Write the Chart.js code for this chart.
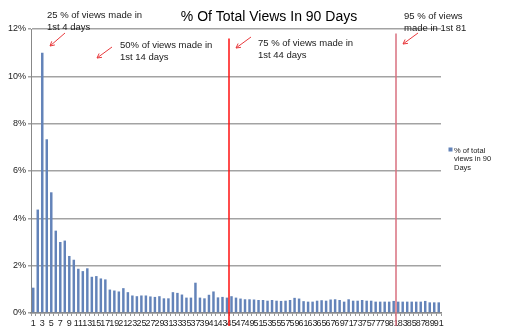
<!DOCTYPE html>
<html>
<head>
<meta charset="utf-8">
<script src="https://cdn.jsdelivr.net/npm/chart.js@4/dist/chart.umd.min.js"></script>
<style>
  body { margin: 0; background: #fff; }
  canvas { display: block; }
</style>
</head>
<body>
<canvas id="ViewsChart" width="505" height="336"></canvas>
<script>
// дни 1..91
var days = [1, 2, 3, 4, 5, 6, 7, 8, 9, 10, 11, 12, 13, 14, 15, 16, 17, 18, 19, 20,
    21, 22, 23, 24, 25, 26, 27, 28, 29, 30, 31, 32, 33, 34, 35, 36, 37, 38, 39, 40,
    41, 42, 43, 44, 45, 46, 47, 48, 49, 50, 51, 52, 53, 54, 55, 56, 57, 58, 59, 60,
    61, 62, 63, 64, 65, 66, 67, 68, 69, 70, 71, 72, 73, 74, 75, 76, 77, 78, 79, 80,
    81, 82, 83, 84, 85, 86, 87, 88, 89, 90, 91];

// % просмотров за день
var viewsPct = [1.07, 4.37, 11.0, 7.34, 5.1, 3.48, 3.0, 3.06, 2.41, 2.25,
    1.87, 1.77, 1.89, 1.53, 1.56, 1.46, 1.42, 0.99, 0.95, 0.91,
    1.05, 0.88, 0.74, 0.71, 0.74, 0.74, 0.70, 0.68, 0.71, 0.62,
    0.62, 0.88, 0.85, 0.78, 0.65, 0.65, 1.28, 0.65, 0.62, 0.77,
    0.91, 0.66, 0.68, 0.65, 0.71, 0.65, 0.61, 0.58, 0.58, 0.57,
    0.55, 0.55, 0.52, 0.55, 0.52, 0.51, 0.52, 0.55, 0.64, 0.61,
    0.50, 0.48, 0.48, 0.52, 0.54, 0.52, 0.57, 0.58, 0.55, 0.48,
    0.58, 0.52, 0.52, 0.55, 0.52, 0.52, 0.48, 0.48, 0.48, 0.48,
    0.51, 0.48, 0.48, 0.48, 0.48, 0.48, 0.48, 0.51, 0.45, 0.45, 0.45];

// подписи по оси X - только нечётные дни
var dayTicks = ['1', '', '3', '', '5', '', '7', '', '9', '', '11', '', '13', '', '15', '', '17', '', '19', '',
    '21', '', '23', '', '25', '', '27', '', '29', '', '31', '', '33', '', '35', '', '37', '', '39', '',
    '41', '', '43', '', '45', '', '47', '', '49', '', '51', '', '53', '', '55', '', '57', '', '59', '',
    '61', '', '63', '', '65', '', '67', '', '69', '', '71', '', '73', '', '75', '', '77', '', '79', '',
    '81', '', '83', '', '85', '', '87', '', '89', '', '91'];

var yTicks = [0, 2, 4, 6, 8, 10, 12];

// отметки: после какого дня набрано сколько просмотров
var markDays = [44, 81];
var markColors = ['#ff1010', '#d9707f'];

var FONT = '"Liberation Sans", Arial, sans-serif';

var notesPlugin = {
    id: 'notes',
    afterDraw: function (chart) {
        var ctx = chart.ctx;
        var x = chart.scales.x;
        var y = chart.scales.y;
        var area = chart.chartArea;

        // вертикальные линии между днями
        markDays.forEach(function (d, i) {
            var idx = days.indexOf(d);
            var px = Math.round((x.getPixelForValue(idx) + x.getPixelForValue(idx + 1)) / 2);
            ctx.save();
            ctx.strokeStyle = markColors[i];
            ctx.lineWidth = 1.5;
            ctx.beginPath();
            ctx.moveTo(px, y.getPixelForValue(11.6) - i * 5);
            ctx.lineTo(px, area.bottom + 13);
            ctx.stroke();
            ctx.restore();
        });

        // стрелки
        var arrows = [[65, 33, 50, 46], [112, 47, 97, 58], [251, 37, 236, 48], [418, 33, 403, 44]];
        ctx.save();
        ctx.strokeStyle = '#e8393c';
        ctx.lineWidth = 1;
        arrows.forEach(function (a) {
            ctx.beginPath();
            ctx.moveTo(a[0], a[1]);
            ctx.lineTo(a[2], a[3]);
            var ang = Math.atan2(a[3] - a[1], a[2] - a[0]);
            for (var s = -1; s <= 1; s += 2) {
                ctx.moveTo(a[2], a[3]);
                ctx.lineTo(a[2] - 5 * Math.cos(ang + s * 0.5), a[3] - 5 * Math.sin(ang + s * 0.5));
            }
            ctx.stroke();
        });
        ctx.restore();

        // заметки
        var notes = [
            [47, 18, '25 % of views made in', '1st 4 days'],
            [120, 48, '50% of views made in', '1st 14 days'],
            [258, 46, '75 % of views made in', '1st 44 days'],
            [404, 19, '95 % of views', 'made in 1st 81']
        ];
        ctx.save();
        ctx.fillStyle = '#1a1a1a';
        ctx.font = '9.5px ' + FONT;
        ctx.textAlign = 'left';
        ctx.textBaseline = 'alphabetic';
        notes.forEach(function (n) {
            ctx.fillText(n[2], n[0], n[1]);
            ctx.fillText(n[3], n[0], n[1] + 11.5);
        });

        // заголовок
        ctx.font = '14px ' + FONT;
        ctx.textAlign = 'center';
        ctx.fillStyle = '#000';
        ctx.fillText('% Of Total Views In 90 Days', 269, 21);

        // легенда
        ctx.fillStyle = '#6383b9';
        ctx.fillRect(448.5, 147.5, 4, 4);
        ctx.fillStyle = '#222';
        ctx.font = '7.5px ' + FONT;
        ctx.textAlign = 'left';
        ['% of total', 'views in 90', 'Days'].forEach(function (t, i) {
            ctx.fillText(t, 454, 152.5 + i * 8.8);
        });
        ctx.restore();
    }
};

var ViewsCanvas = document.getElementById("ViewsChart");

var barChart = new Chart(ViewsCanvas, {
    type: 'bar',
    data: {
        labels: days,
        datasets: [{
            label: '% of total views in 90 Days',
            data: viewsPct,
            backgroundColor: '#6383b9',
            borderWidth: 0,
            categoryPercentage: 1,
            barPercentage: 0.55
        }]
    },
    options: {
        responsive: false,
        animation: false,
        layout: { padding: { left: 0, right: 64, top: 29, bottom: 0 } },
        plugins: {
            legend: { display: false },
            title: { display: false },
            tooltip: { enabled: false }
        },
        scales: {
            x: {
                afterFit: function (scale) { scale.height = 23; },
                grid: { display: true, drawOnChartArea: false, drawTicks: true, tickLength: 3, color: '#999' },
                border: { display: true, color: '#888', width: 1.5 },
                ticks: {
                    autoSkip: false,
                    maxRotation: 0,
                    minRotation: 0,
                    padding: 2,
                    color: '#222',
                    font: { family: FONT, size: 9 },
                    callback: function (val, i) { return dayTicks[i]; }
                }
            },
            y: {
                min: yTicks[0],
                max: yTicks[yTicks.length - 1],
                afterFit: function (scale) { scale.width = 31; },
                afterBuildTicks: function (scale) {
                    scale.ticks = yTicks.map(function (v) { return { value: v }; });
                },
                grid: { color: '#a3a3a3', lineWidth: 1.5, tickLength: 3 },
                border: { display: true, color: '#888', width: 1 },
                ticks: {
                    padding: 2,
                    color: '#222',
                    font: { family: FONT, size: 9 },
                    callback: function (v) { return v + '%'; }
                }
            }
        }
    },
    plugins: [notesPlugin]
});
</script>
</body>
</html>
